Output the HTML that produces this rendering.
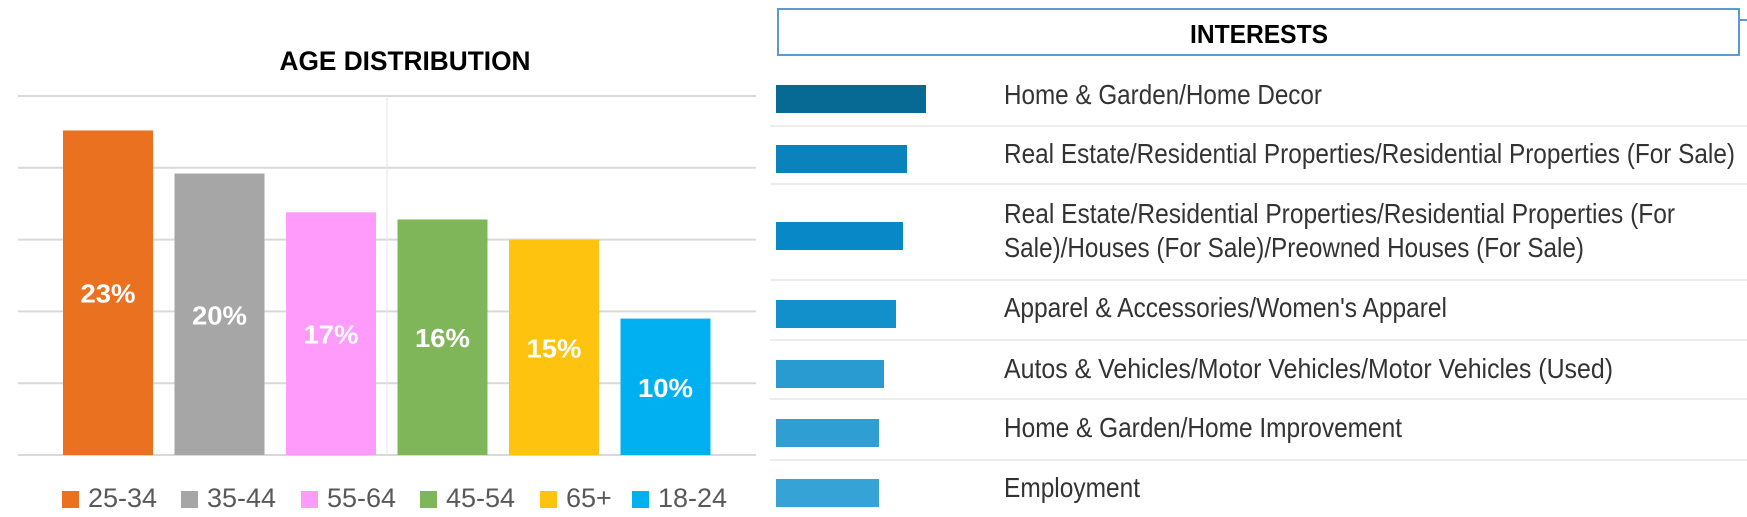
<!DOCTYPE html>
<html><head><meta charset="utf-8">
<style>
html,body{margin:0;padding:0;background:#fff;}
svg{display:block;}
</style></head>
<body>
<svg id="chart" width="1747" height="517" viewBox="0 0 1747 517" xmlns="http://www.w3.org/2000/svg">
  <text x="405" y="70" text-anchor="middle" font-family="Liberation Sans, sans-serif" font-weight="bold" font-size="27" textLength="251" lengthAdjust="spacingAndGlyphs" fill="#000">AGE DISTRIBUTION</text>
  <g id="ageGrid"></g>
  <g id="ageBars"></g>
  <g id="ageLegend"></g>
  <rect x="778" y="9" width="961" height="46" fill="#fff" stroke="#5b9bd5" stroke-width="2"/>
  <line x1="1739" y1="20" x2="1747" y2="20" stroke="#5b9bd5" stroke-width="2"/>
  <text x="1259" y="43" text-anchor="middle" font-family="Liberation Sans, sans-serif" font-weight="bold" font-size="26" textLength="138" lengthAdjust="spacingAndGlyphs" fill="#000">INTERESTS</text>
  <g id="intRows"></g>
</svg>
<script>
const NS = "http://www.w3.org/2000/svg";
// ---- Age distribution data ----
const ageCategories = ["25-34","35-44","55-64","45-54","65+","18-24"];
const ageValues = [22.6, 19.6, 16.9, 16.4, 15.0, 9.5];
const ageColors = ["#ea711f","#a6a6a6","#ff9cfb","#7fb65a","#fec30f","#00b0f0"];
const ageTicks = [0,5,10,15,20,25];
// ---- Interests data ----
const interestLabels = [
  ["Home & Garden/Home Decor"],
  ["Real Estate/Residential Properties/Residential Properties (For Sale)"],
  ["Real Estate/Residential Properties/Residential Properties (For","Sale)/Houses (For Sale)/Preowned Houses (For Sale)"],
  ["Apparel & Accessories/Women's Apparel"],
  ["Autos & Vehicles/Motor Vehicles/Motor Vehicles (Used)"],
  ["Home & Garden/Home Improvement"],
  ["Employment"]
];
const interestValues = [150, 131, 127, 120, 108, 103, 103];
const interestColors = ["#066a94","#0a83bd","#0888c6","#1290cb","#2a9bd1","#2f9ed2","#35a3d5"];

function mk(tag, attrs, parent){const e=document.createElementNS(NS,tag);for(const k in attrs)e.setAttribute(k,attrs[k]);parent.appendChild(e);return e;}

// axes for age chart
const plotL=18, plotR=756, plotT=96, plotB=455;
const yMax = ageTicks[ageTicks.length-1];
function yScale(v){return plotB - v/yMax*(plotB-plotT);}
const step=111.5, bw=90, x0=63;
function xScale(i){return x0 + i*step;}

const grid=document.getElementById('ageGrid');
ageTicks.forEach(t=>{
  const l=mk('line',{x1:plotL,x2:plotR,y1:yScale(t),y2:yScale(t),stroke:'#d9d9d9','stroke-width':2},grid);
  
  
});
const vl=mk('line',{x1:387,x2:387,y1:plotT,y2:plotB,stroke:'#e6e6e6','stroke-width':1},grid);



const bars=document.getElementById('ageBars');
ageValues.forEach((v,i)=>{
  const y=yScale(v);
  const r=mk('rect',{x:xScale(i),y:y,width:bw,height:plotB-y,fill:ageColors[i]},bars);
  
  
  const t=mk('text',{x:xScale(i)+bw/2,y:(y+plotB)/2+10,'text-anchor':'middle','font-family':'Liberation Sans, sans-serif','font-weight':'bold','font-size':26,fill:'#fff',textLength:55,lengthAdjust:'spacingAndGlyphs'},bars);
  t.textContent=Math.round(v)+'%';
  
  
});

const legX=[62,181,301,420,540,632];
const leg=document.getElementById('ageLegend');
ageCategories.forEach((c,i)=>{
  const s=mk('rect',{x:legX[i],y:491,width:17,height:17,fill:ageColors[i]},leg);
  
  
  const t=mk('text',{x:legX[i]+26,y:507,'font-family':'Liberation Sans, sans-serif','font-size':27,fill:'#595959'},leg);
  t.textContent=c;
  
  
});

// interests
const rows=document.getElementById('intRows');
const barTops=[85,145,222,300,360,419,479];
const sepY=[126,184,280,340,399,460];
const textBase=[[104],[163],[223,257],[317],[378],[437],[497]];
const textW=[[318],[731],[671,580],[443],[609],[398],[136]];
sepY.forEach(y=>{
  const l=mk('line',{x1:770,x2:1747,y1:y,y2:y,stroke:'#ececec','stroke-width':2},rows);
  
  
});
function iScale(v){return v*1.0;}
interestValues.forEach((v,i)=>{
  const r=mk('rect',{x:776,y:barTops[i],width:iScale(v),height:28,fill:interestColors[i]},rows);
  
  
  interestLabels[i].forEach((line,j)=>{
    const t=mk('text',{x:1004,y:textBase[i][j],'font-family':'Liberation Sans, sans-serif','font-size':28,fill:'#333',textLength:textW[i][j],lengthAdjust:'spacingAndGlyphs'},rows);
    t.textContent=line;
    
    
  });
});
</script>
</body></html>
